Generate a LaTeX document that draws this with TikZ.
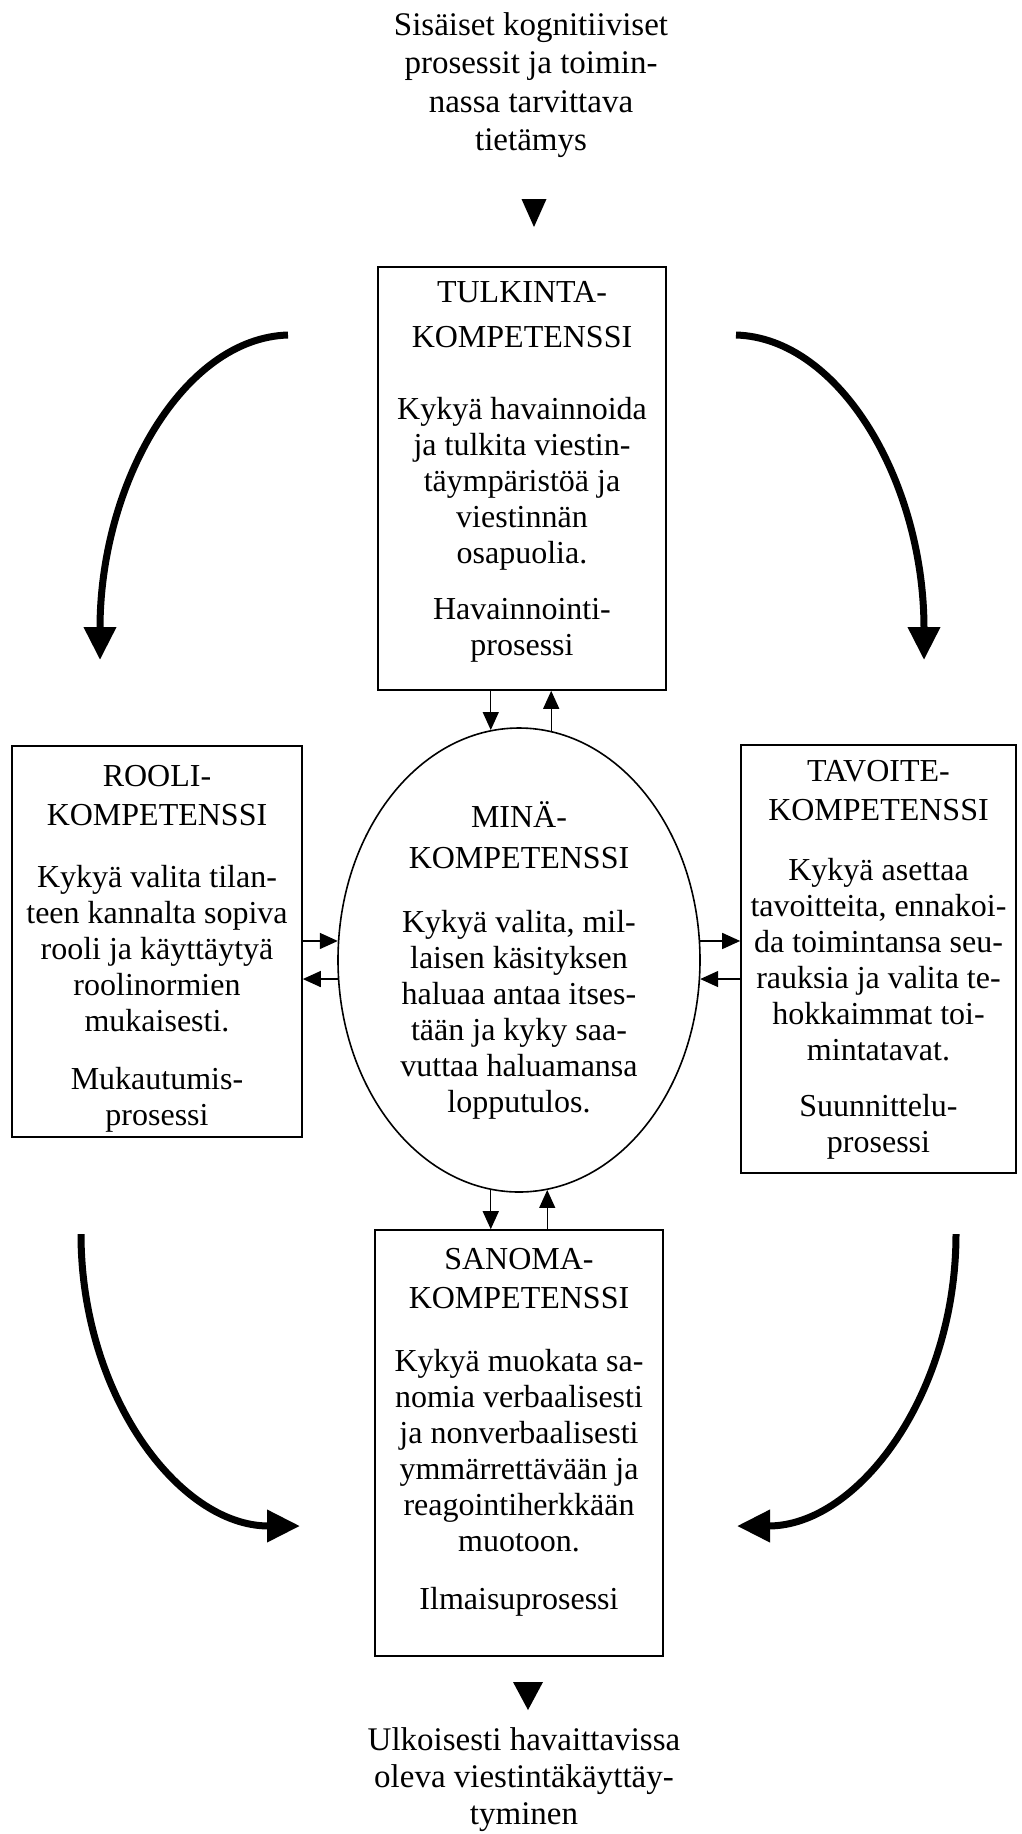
\documentclass[tikz,border=0pt]{standalone}
\usepackage{fontspec}
\setmainfont{Liberation Serif}
\usetikzlibrary{arrows.meta,positioning,shapes.geometric}

\begin{document}
\begin{tikzpicture}[x=1pt,y=-1pt,
  compbox/.style={draw,line width=1.6pt,inner sep=0pt},
  comptext/.style={align=center,inner sep=0pt,font={\fontsize{32}{36}\selectfont}},
  link/.style={line width=1.4pt,-{Triangle[length=18pt,width=16pt]}},
  curvearrow/.style={line width=7pt,-{Triangle[length=33pt,width=31pt]}}]
\useasboundingbox (0,0) rectangle (1022,1834);
\node[comptext,anchor=north,font={\fontsize{33}{38.5}\selectfont}] (inner) at (531,12) {Sisäiset kognitiiviset\\prosessit ja toimin-\\nassa tarvittava\\tietämys};
\coordinate (downA) at (534,213);
\fill (downA) ++(-12.5,-14) -- ++(25,0) -- ++(-12.5,28) -- cycle;
\node[compbox,minimum width=288pt,minimum height=423pt] (tulk) at (522,478.5) {};
\node[comptext,below=15pt of tulk.north] (tulktxt) {TULKINTA-\\[9pt]KOMPETENSSI\\[36pt]Kykyä havainnoida\\ja tulkita viestin-\\täympäristöä ja\\viestinnän\\osapuolia.\\[20pt]Havainnointi-\\prosessi};
\node[compbox,minimum width=290pt,minimum height=391pt] (rool) at (157,941.5) {};
\node[comptext,below=20pt of rool.north] (rooltxt) {ROOLI-\\[3pt]KOMPETENSSI\\[26pt]Kykyä valita tilan-\\teen kannalta sopiva\\rooli ja käyttäytyä\\roolinormien\\mukaisesti.\\[22pt]Mukautumis-\\prosessi};
\node[compbox,minimum width=275pt,minimum height=428pt] (tav) at (878.5,959) {};
\node[comptext,below=16pt of tav.north] (tavtxt) {TAVOITE-\\[3pt]KOMPETENSSI\\[24pt]Kykyä asettaa\\tavoitteita, ennakoi-\\da toimintansa seu-\\rauksia ja valita te-\\hokkaimmat toi-\\mintatavat.\\[20pt]Suunnittelu-\\prosessi};
\node[draw,ellipse,line width=1.6pt,minimum width=362pt,minimum height=464pt,comptext] (ego) at (519,960) {MINÄ-\\[5pt]KOMPETENSSI\\[28pt]Kykyä valita, mil-\\laisen käsityksen\\haluaa antaa itses-\\tään ja kyky saa-\\vuttaa haluamansa\\lopputulos.};
\node[compbox,minimum width=288pt,minimum height=426pt] (sano) at (519,1443) {};
\node[comptext,below=19pt of sano.north] (sanotxt) {SANOMA-\\[3pt]KOMPETENSSI\\[27pt]Kykyä muokata sa-\\nomia verbaalisesti\\ja nonverbaalisesti\\ymmärrettävään ja\\reagointiherkkään\\muotoon.\\[22pt]Ilmaisuprosessi};
\coordinate (downB) at (528,1696);
\fill (downB) ++(-15,-14) -- ++(30,0) -- ++(-15,28) -- cycle;
\node[comptext,anchor=north,font={\fontsize{33}{37}\selectfont}] (outer) at (524,1727) {Ulkoisesti havaittavissa\\oleva viestintäkäyttäy-\\tyminen};
\draw[link] (ego.97 |- tulk.south) -- (ego.97);
\draw[link] (ego.82) -- (ego.82 |- tulk.south);
\draw[link] (rool.east |- ego.174) -- (ego.174);
\draw[link] (ego.186) -- (rool.east |- ego.186);
\draw[link] (ego.6) -- (tav.west |- ego.6);
\draw[link] (tav.west |- ego.354) -- (ego.354);
\draw[link] (ego.263) -- (ego.263 |- sano.north);
\draw[link] (ego.277 |- sano.north) -- (ego.277);
\coordinate (tlA) at (288,335);
\coordinate (tlB) at (100,660);
\coordinate (trA) at (736,335);
\coordinate (trB) at (924,660);
\coordinate (blA) at (81,1234);
\coordinate (blB) at (300,1526);
\coordinate (brA) at (956,1234);
\coordinate (brB) at (737,1526);
\draw[curvearrow] (tlA) .. controls +(-104,3) and +(0,-178) .. (tlB);
\draw[curvearrow] (trA) .. controls +(104,3) and +(0,-178) .. (trB);
\draw[curvearrow] (blA) .. controls +(0,161) and +(-121,0) .. (blB);
\draw[curvearrow] (brA) .. controls +(0,161) and +(121,0) .. (brB);
\end{tikzpicture}
\end{document}
